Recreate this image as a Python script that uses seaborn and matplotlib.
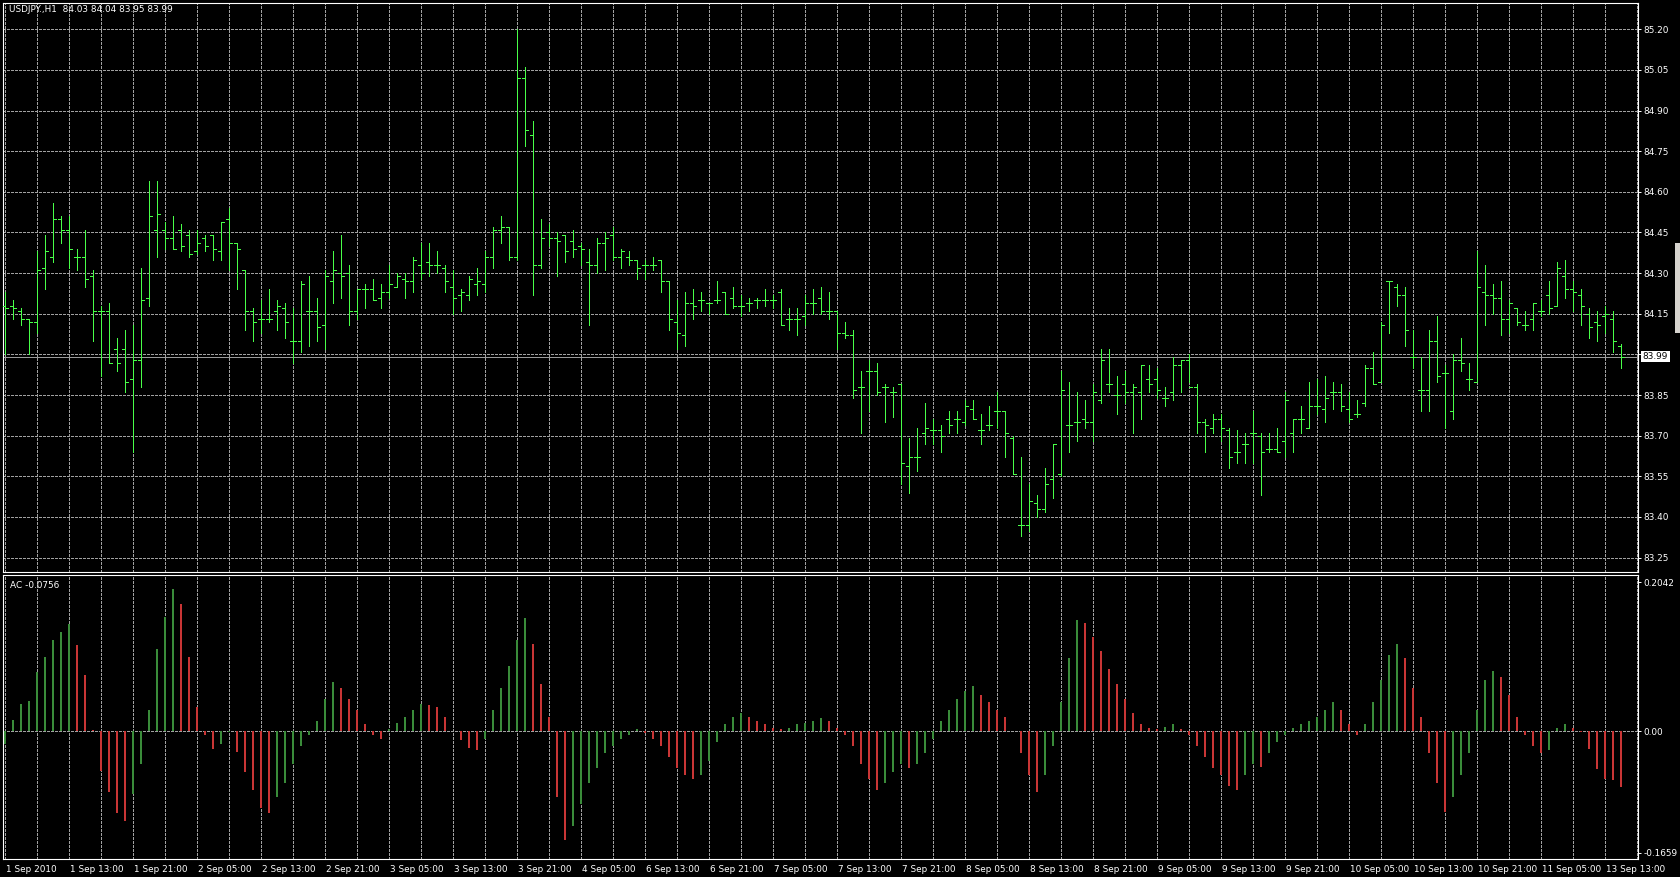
import numpy as np
import pandas as pd
import matplotlib
matplotlib.use("Agg")
import matplotlib.pyplot as plt
import seaborn as sns
from matplotlib.patches import Rectangle
from matplotlib.transforms import ScaledTranslation

# ---------------- data ----------------
opens = [84.18, 84.18, 84.16, 84.13, 84.12, 84.32, 84.36, 84.50, 84.46, 84.36,
         84.36, 84.29, 84.16, 84.16, 84.02, 84.02, 83.91, 83.98, 84.21, 84.46,
         84.46, 84.43, 84.46, 84.44, 84.38, 84.43, 84.44, 84.38, 84.50, 84.41,
         84.31, 84.16, 84.13, 84.13, 84.16, 84.17, 84.05, 84.05, 84.16, 84.16,
         84.11, 84.27, 84.30, 84.30, 84.16, 84.24, 84.24, 84.21, 84.23, 84.25,
         84.28, 84.27, 84.33, 84.34, 84.33, 84.32, 84.25, 84.22, 84.22, 84.26,
         84.26, 84.36, 84.46, 84.47, 84.36, 85.02, 84.81, 84.33, 84.45, 84.43,
         84.44, 84.42, 84.40, 84.34, 84.33, 84.41, 84.44, 84.36, 84.36, 84.35,
         84.33, 84.33, 84.35, 84.27, 84.12, 84.07, 84.19, 84.20, 84.19, 84.20,
         84.23, 84.21, 84.18, 84.19, 84.20, 84.20, 84.20, 84.23, 84.13, 84.13,
         84.14, 84.19, 84.21, 84.16, 84.16, 84.08, 84.07, 83.88, 83.94, 83.94,
         83.88, 83.86, 83.89, 83.59, 83.62, 83.71, 83.72, 83.72, 83.76, 83.76,
         83.75, 83.80, 83.72, 83.74, 83.79, 83.79, 83.69, 83.37, 83.37, 83.45,
         83.43, 83.54, 83.56, 83.74, 83.75, 83.76, 83.75, 83.83, 83.89, 83.85,
         83.89, 83.86, 83.86, 83.91, 83.91, 83.84, 83.86, 83.96, 83.98, 83.88,
         83.75, 83.73, 83.76, 83.72, 83.64, 83.67, 83.71, 83.70, 83.65, 83.65,
         83.68, 83.71, 83.76, 83.73, 83.81, 83.80, 83.86, 83.86, 83.80, 83.78,
         83.82, 83.95, 83.90, 84.27, 84.25, 84.22, 83.99, 83.87, 83.87, 84.05,
         83.93, 83.79, 83.98, 83.91, 83.90, 84.23, 84.22, 84.21, 84.13, 84.17,
         84.11, 84.13, 84.16, 84.22, 84.18, 84.29, 84.24, 84.22, 84.15, 84.12,
         84.14, 84.13, 84.03]
highs = [84.23, 84.20, 84.17, 84.13, 84.38, 84.44, 84.56, 84.51, 84.51, 84.39,
         84.46, 84.31, 84.18, 84.19, 84.06, 84.09, 84.11, 84.32, 84.64, 84.64,
         84.49, 84.51, 84.48, 84.46, 84.46, 84.44, 84.44, 84.49, 84.54, 84.41,
         84.31, 84.17, 84.20, 84.24, 84.20, 84.19, 84.17, 84.27, 84.29, 84.21,
         84.31, 84.38, 84.44, 84.33, 84.24, 84.26, 84.28, 84.26, 84.33, 84.30,
         84.30, 84.36, 84.41, 84.41, 84.38, 84.33, 84.31, 84.24, 84.29, 84.32,
         84.38, 84.47, 84.51, 84.47, 85.20, 85.06, 84.86, 84.50, 84.48, 84.45,
         84.44, 84.46, 84.41, 84.39, 84.43, 84.45, 84.47, 84.39, 84.38, 84.35,
         84.35, 84.36, 84.35, 84.27, 84.20, 84.23, 84.24, 84.23, 84.19, 84.27,
         84.23, 84.25, 84.22, 84.21, 84.21, 84.24, 84.22, 84.24, 84.17, 84.17,
         84.22, 84.24, 84.25, 84.23, 84.16, 84.12, 84.09, 83.94, 83.98, 83.97,
         83.89, 83.88, 83.89, 83.69, 83.73, 83.82, 83.76, 83.74, 83.79, 83.79,
         83.83, 83.83, 83.78, 83.81, 83.86, 83.79, 83.70, 83.62, 83.52, 83.48,
         83.58, 83.67, 83.94, 83.90, 83.86, 83.83, 83.89, 84.02, 84.02, 83.92,
         83.94, 83.89, 83.96, 83.96, 83.95, 83.88, 83.99, 83.98, 84.00, 83.89,
         83.76, 83.78, 83.78, 83.73, 83.72, 83.71, 83.79, 83.71, 83.71, 83.73,
         83.86, 83.76, 83.81, 83.90, 83.91, 83.92, 83.90, 83.89, 83.86, 83.83,
         83.96, 84.01, 84.12, 84.27, 84.26, 84.25, 84.09, 83.99, 84.09, 84.14,
         83.96, 84.00, 84.06, 83.97, 84.38, 84.33, 84.26, 84.27, 84.20, 84.17,
         84.16, 84.19, 84.20, 84.27, 84.34, 84.35, 84.27, 84.24, 84.17, 84.16,
         84.18, 84.16, 84.04]
lows = [84.00, 84.13, 84.11, 84.00, 84.08, 84.24, 84.34, 84.41, 84.32, 84.31,
        84.25, 84.05, 83.92, 83.97, 83.94, 83.86, 83.64, 83.88, 84.18, 84.36,
        84.39, 84.39, 84.38, 84.36, 84.37, 84.38, 84.35, 84.35, 84.31, 84.24,
        84.09, 84.05, 84.08, 84.12, 84.09, 84.06, 83.97, 84.01, 84.03, 84.05,
        84.02, 84.19, 84.21, 84.11, 84.13, 84.17, 84.20, 84.17, 84.21, 84.25,
        84.21, 84.23, 84.28, 84.29, 84.30, 84.23, 84.15, 84.16, 84.20, 84.22,
        84.23, 84.32, 84.41, 84.35, 84.35, 84.77, 84.22, 84.32, 84.40, 84.29,
        84.34, 84.36, 84.33, 84.11, 84.30, 84.31, 84.35, 84.32, 84.33, 84.28,
        84.28, 84.31, 84.23, 84.09, 84.02, 84.03, 84.13, 84.16, 84.15, 84.19,
        84.15, 84.17, 84.14, 84.16, 84.17, 84.18, 84.17, 84.11, 84.09, 84.07,
        84.11, 84.15, 84.15, 84.13, 84.02, 84.06, 83.84, 83.71, 83.79, 83.85,
        83.75, 83.77, 83.52, 83.49, 83.57, 83.67, 83.67, 83.64, 83.71, 83.71,
        83.74, 83.76, 83.67, 83.72, 83.73, 83.62, 83.56, 83.33, 83.35, 83.40,
        83.42, 83.47, 83.55, 83.64, 83.68, 83.73, 83.68, 83.82, 83.86, 83.78,
        83.82, 83.71, 83.76, 83.86, 83.84, 83.81, 83.83, 83.86, 83.90, 83.71,
        83.64, 83.71, 83.68, 83.58, 83.60, 83.60, 83.60, 83.48, 83.64, 83.64,
        83.62, 83.64, 83.71, 83.73, 83.78, 83.75, 83.80, 83.79, 83.75, 83.77,
        83.81, 83.89, 83.90, 84.08, 84.18, 84.03, 83.95, 83.79, 83.79, 83.90,
        83.73, 83.76, 83.94, 83.87, 83.90, 84.11, 84.15, 84.07, 84.08, 84.11,
        84.09, 84.09, 84.14, 84.15, 84.18, 84.21, 84.16, 84.11, 84.06, 84.05,
        84.08, 84.01, 83.95]
closes = [84.17, 84.17, 84.13, 84.12, 84.31, 84.38, 84.50, 84.46, 84.39, 84.36,
          84.28, 84.16, 84.16, 83.97, 83.97, 83.90, 83.98, 84.20, 84.51, 84.52,
          84.43, 84.39, 84.40, 84.37, 84.41, 84.40, 84.39, 84.49, 84.41, 84.39,
          84.16, 84.12, 84.13, 84.13, 84.18, 84.12, 84.05, 84.26, 84.16, 84.10,
          84.29, 84.31, 84.29, 84.16, 84.24, 84.24, 84.20, 84.23, 84.26, 84.29,
          84.27, 84.35, 84.30, 84.33, 84.33, 84.27, 84.21, 84.23, 84.28, 84.27,
          84.36, 84.46, 84.47, 84.36, 85.02, 84.83, 84.33, 84.43, 84.43, 84.42,
          84.38, 84.39, 84.39, 84.33, 84.41, 84.43, 84.36, 84.38, 84.35, 84.32,
          84.33, 84.33, 84.27, 84.13, 84.08, 84.19, 84.18, 84.20, 84.19, 84.20,
          84.15, 84.18, 84.18, 84.19, 84.20, 84.20, 84.20, 84.11, 84.13, 84.13,
          84.19, 84.19, 84.16, 84.16, 84.08, 84.07, 83.87, 83.88, 83.94, 83.86,
          83.88, 83.86, 83.60, 83.62, 83.62, 83.73, 83.72, 83.70, 83.74, 83.76,
          83.81, 83.76, 83.72, 83.74, 83.79, 83.71, 83.56, 83.37, 83.46, 83.43,
          83.52, 83.67, 83.87, 83.74, 83.75, 83.75, 83.86, 83.98, 83.89, 83.85,
          83.86, 83.88, 83.96, 83.89, 83.87, 83.84, 83.96, 83.98, 83.88, 83.75,
          83.74, 83.76, 83.73, 83.62, 83.64, 83.67, 83.71, 83.64, 83.65, 83.64,
          83.83, 83.76, 83.76, 83.81, 83.81, 83.84, 83.86, 83.81, 83.76, 83.78,
          83.95, 83.89, 84.11, 84.27, 84.22, 84.09, 83.99, 83.87, 84.05, 83.92,
          83.93, 83.98, 83.97, 83.91, 84.25, 84.22, 84.21, 84.13, 84.19, 84.12,
          84.11, 84.19, 84.16, 84.17, 84.32, 84.24, 84.23, 84.18, 84.10, 84.11,
          84.15, 84.05, 83.99]
ac_values = [-0.017, 0.016, 0.037, 0.042, 0.081, 0.102, 0.125, 0.136, 0.147, 0.118,
             0.077, 0.002, -0.054, -0.083, -0.112, -0.122, -0.085, -0.045, 0.029, 0.113,
             0.157, 0.195, 0.175, 0.102, 0.033, -0.005, -0.024, -0.017, -0.001, -0.028,
             -0.055, -0.080, -0.105, -0.112, -0.090, -0.070, -0.045, -0.020, -0.005, 0.015,
             0.045, 0.068, 0.060, 0.045, 0.030, 0.010, -0.005, -0.010, 0.003, 0.012,
             0.020, 0.030, 0.038, 0.036, 0.033, 0.020, 0.000, -0.012, -0.022, -0.025,
             -0.010, 0.030, 0.060, 0.090, 0.125, 0.155, 0.120, 0.065, 0.020, -0.090,
             -0.149, -0.130, -0.100, -0.070, -0.050, -0.030, -0.020, -0.010, -0.005, 0.003,
             -0.002, -0.010, -0.020, -0.035, -0.050, -0.060, -0.065, -0.060, -0.040, -0.015,
             0.010, 0.020, 0.025, 0.020, 0.015, 0.010, 0.005, 0.003, 0.005, 0.010,
             0.012, 0.015, 0.018, 0.015, 0.005, -0.005, -0.020, -0.045, -0.065, -0.080,
             -0.070, -0.055, -0.045, -0.050, -0.045, -0.030, -0.010, 0.015, 0.030, 0.045,
             0.055, 0.062, 0.050, 0.040, 0.030, 0.020, 0.000, -0.030, -0.060, -0.083,
             -0.060, -0.020, 0.040, 0.100, 0.153, 0.148, 0.130, 0.110, 0.085, 0.065,
             0.045, 0.025, 0.010, 0.005, 0.003, 0.006, 0.010, 0.004, -0.005, -0.020,
             -0.035, -0.050, -0.060, -0.075, -0.080, -0.060, -0.045, -0.048, -0.030, -0.015,
             -0.005, 0.005, 0.010, 0.015, 0.020, 0.030, 0.040, 0.030, 0.010, -0.005,
             0.010, 0.040, 0.070, 0.105, 0.120, 0.100, 0.060, 0.020, -0.030, -0.070,
             -0.110, -0.090, -0.060, -0.030, 0.030, 0.070, 0.083, 0.075, 0.050, 0.020,
             -0.005, -0.020, -0.030, -0.025, 0.005, 0.010, 0.005, -0.001, -0.024, -0.052,
             -0.065, -0.067, -0.0756]
time_labels = ["1 Sep 2010", "1 Sep 13:00", "1 Sep 21:00", "2 Sep 05:00", "2 Sep 13:00",
               "2 Sep 21:00", "3 Sep 05:00", "3 Sep 13:00", "3 Sep 21:00", "4 Sep 05:00",
               "6 Sep 13:00", "6 Sep 21:00", "7 Sep 05:00", "7 Sep 13:00", "7 Sep 21:00",
               "8 Sep 05:00", "8 Sep 13:00", "8 Sep 21:00", "9 Sep 05:00", "9 Sep 13:00",
               "9 Sep 21:00", "10 Sep 05:00", "10 Sep 13:00", "10 Sep 21:00", "11 Sep 05:00",
               "13 Sep 13:00"]
price_levels = [83.25, 83.40, 83.55, 83.70, 83.85, 84.00, 84.15, 84.30, 84.45,
                84.60, 84.75, 84.90, 85.05, 85.20]
ac_levels = [-0.1659, 0.0, 0.2042]
ac_level_labels = ["-0.1659", "0.00", "0.2042"]
bid_price = 83.99
title_text = "USDJPY.,H1  84.03 84.04 83.95 83.99"
ac_text = "AC -0.0756"

# ---------------- style ----------------
sns.set_style("dark", {"axes.facecolor": "black", "figure.facecolor": "black"})
plt.rcParams["font.family"] = ["DejaVu Sans"]

BAR_C = "#48ff48"
UP_C = "#2c9a2c"
DN_C = "#e21c1c"
GRID_C = "#a0a0a0"
FS = 6.4
W, H = 1680, 877
LW = 0.68  # ~1 px

def rect(l, t, r, b):
    return [l / W, 1 - b / H, (r - l) / W, (b - t) / H]

fig = plt.figure(figsize=(W / 100, H / 100), dpi=100, facecolor="black")
ax1 = fig.add_axes(rect(3, 3, 1638, 572))
ax2 = fig.add_axes(rect(3, 575, 1638, 859))

n = len(closes)
idx = np.arange(n)
XL = (-0.25, 204.125)
dash = (0, (3.0, 2.0))

for ax in (ax1, ax2):
    ax.set_facecolor("black")
    for s in ax.spines.values():
        s.set_color("white")
        s.set_linewidth(0.8)
    for xv in range(0, 205, 4):
        ax.axvline(xv, color=GRID_C, lw=LW, ls=dash, antialiased=False, zorder=0)

# ---- price panel ----
for yv in price_levels:
    ax1.axhline(yv, color=GRID_C, lw=LW, ls=dash, antialiased=False, zorder=0)
ax1.axhline(bid_price, color="#9a9a9a", lw=LW, antialiased=False, zorder=1)

ax1.vlines(idx, lows, highs, colors=BAR_C, lw=LW, antialiased=False, zorder=3)
ax1.hlines(opens, idx - 0.4, idx, colors=BAR_C, lw=LW, antialiased=False, zorder=3)
ax1.hlines(closes, idx, idx + 0.4, colors=BAR_C, lw=LW, antialiased=False, zorder=3)

ax1.set_xlim(*XL)
ax1.set_ylim(83.197, 85.297)
ax1.yaxis.tick_right()
ax1.set_yticks(price_levels)
ax1.set_yticklabels(["" if abs(v - 84.00) < 1e-6 else f"{v:.2f}" for v in price_levels])
ax1.tick_params(axis="y", colors="white", labelcolor="white", length=2.5, width=0.7,
                pad=1.5, labelsize=FS, direction="out")
ax1.set_xticks([])
ax1.grid(False)

# ---- AC panel ----
ac_arr = np.array(ac_values)
prev = np.concatenate([[ac_arr[0] - 1.0], ac_arr[:-1]])
df = pd.DataFrame({"bar": idx, "ac": ac_arr,
                   "dir": np.where(ac_arr > prev, "up", "down")})
sns.barplot(data=df, x="bar", y="ac", hue="dir", palette={"up": UP_C, "down": DN_C},
            native_scale=True, width=0.13, dodge=False, legend=False, errorbar=None,
            linewidth=0, antialiased=False, ax=ax2, zorder=3)
ax2.axhline(0.0, color=GRID_C, lw=LW, ls=dash, antialiased=False, zorder=1)

ax2.set_xlim(*XL)
ax2.set_ylim(-0.1747, 0.2144)
ax2.set_xlabel("")
ax2.set_ylabel("")
ax2.yaxis.tick_right()
ax2.set_yticks(ac_levels)
ax2.set_yticklabels(ac_level_labels)
ax2.tick_params(axis="y", colors="white", labelcolor="white", length=2.5, width=0.7,
                pad=1.5, labelsize=FS, direction="out")
label_pos = np.arange(0, 8 * len(time_labels), 8)
ax2.set_xticks(label_pos)
ax2.set_xticklabels(time_labels)
ax2.tick_params(axis="x", colors="white", labelcolor="white", length=3, width=0.7,
                pad=1.0, labelsize=FS, direction="out")
off = ScaledTranslation(1.5 / 100, 0, fig.dpi_scale_trans)
for lbl in ax2.get_xticklabels():
    lbl.set_horizontalalignment("left")
    lbl.set_transform(lbl.get_transform() + off)
ax2.grid(False)

# ---- texts / decorations ----
fig.text(9 / W, 1 - 9.5 / H, title_text, color="white", fontsize=FS, ha="left", va="center")
fig.text(10 / W, 1 - 585 / H, ac_text, color="white", fontsize=FS, ha="left", va="center")

fig.add_artist(Rectangle((1641 / W, 1 - 362 / H), 29 / W, 11 / H, transform=fig.transFigure,
                         facecolor="white", edgecolor="none"))
fig.text(1655.5 / W, 1 - 356.8 / H, f"{bid_price:.2f}", color="black", fontsize=FS,
         ha="center", va="center")
fig.add_artist(Rectangle((1675 / W, 1 - 333 / H), 5 / W, 90 / H, transform=fig.transFigure,
                         facecolor="#d6d3ce", edgecolor="none"))

fig.savefig("out.png", dpi=100, facecolor="black")
